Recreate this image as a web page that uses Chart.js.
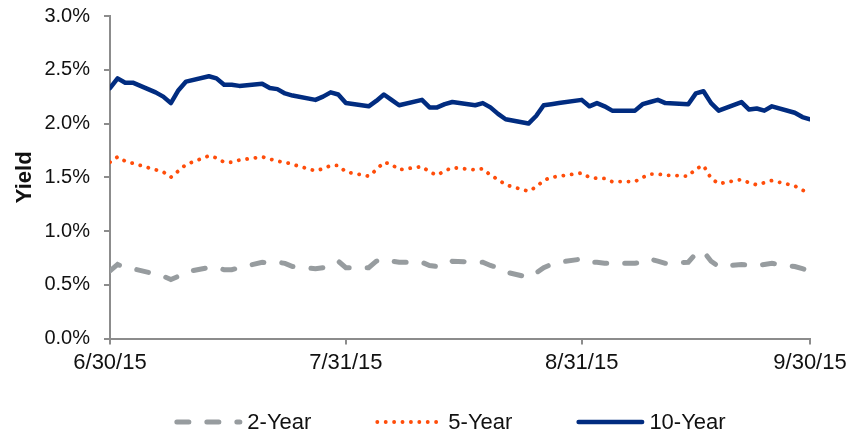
<!DOCTYPE html>
<html>
<head>
<meta charset="utf-8">
<script src="https://cdn.jsdelivr.net/npm/chart.js@4/dist/chart.umd.min.js"></script>
<style>
  html, body { margin: 0; padding: 0; background: #fff; }
  #wrap { width: 846px; height: 434px; }
</style>
</head>
<body>
<div id="wrap"><canvas id="yieldChart" width="846" height="434"></canvas></div>
<script>
// trading days, Q3 2015 (holidays carry prior value)
const dates = [
  '6/30',
  '7/1','7/2','7/3','7/6','7/7','7/8','7/9','7/10','7/13','7/14','7/15','7/16','7/17',
  '7/20','7/21','7/22','7/23','7/24','7/27','7/28','7/29','7/30','7/31',
  '8/3','8/4','8/5','8/6','8/7','8/10','8/11','8/12','8/13','8/14','8/17','8/18','8/19',
  '8/20','8/21','8/24','8/25','8/26','8/27','8/28','8/31',
  '9/1','9/2','9/3','9/4','9/7','9/8','9/9','9/10','9/11','9/14','9/15','9/16','9/17',
  '9/18','9/21','9/22','9/23','9/24','9/25','9/28','9/29','9/30'
];

const yield2 = [
  0.63,
  0.69,0.66,0.65,0.60,0.58,0.55,0.58,0.62,0.66,0.66,0.64,0.64,0.66,
  0.71,0.70,0.71,0.70,0.67,0.65,0.66,0.69,0.72,0.66,
  0.66,0.72,0.74,0.72,0.71,0.71,0.68,0.67,0.68,0.72,0.71,0.71,0.68,
  0.66,0.62,0.57,0.61,0.66,0.69,0.71,0.74,
  0.71,0.71,0.70,0.70,0.70,0.71,0.74,0.72,0.70,0.71,0.79,0.81,0.72,
  0.67,0.69,0.68,0.68,0.69,0.70,0.67,0.65,0.63
];

const yield5 = [
  1.64,
  1.69,1.65,1.63,1.57,1.55,1.50,1.56,1.62,1.70,1.68,1.64,1.64,1.66,
  1.69,1.67,1.65,1.64,1.62,1.56,1.58,1.61,1.61,1.55,
  1.51,1.57,1.64,1.62,1.57,1.60,1.55,1.52,1.56,1.59,1.57,1.58,1.52,
  1.48,1.43,1.37,1.41,1.47,1.50,1.51,1.54,
  1.50,1.49,1.49,1.46,1.46,1.50,1.53,1.53,1.52,1.51,1.58,1.61,1.49,
  1.44,1.48,1.45,1.43,1.45,1.47,1.42,1.38,1.36
];

const yield10 = [
  2.33,
  2.42,2.38,2.38,2.29,2.25,2.19,2.31,2.39,2.44,2.42,2.36,2.36,2.35,
  2.37,2.33,2.32,2.28,2.26,2.22,2.25,2.29,2.27,2.19,
  2.16,2.21,2.27,2.22,2.17,2.22,2.15,2.15,2.18,2.20,2.17,2.19,2.15,
  2.09,2.04,2.00,2.07,2.17,2.18,2.19,2.22,
  2.16,2.19,2.16,2.12,2.12,2.18,2.20,2.22,2.19,2.18,2.28,2.30,2.19,
  2.12,2.20,2.13,2.14,2.12,2.16,2.10,2.06,2.04
];

const seriesNames = ['2-Year', '5-Year', '10-Year'];
const xTickLabels = ['6/30/15', '7/31/15', '8/31/15', '9/30/15'];
const yTicks = [0, 0.5, 1, 1.5, 2, 2.5, 3];

// days since 6/30/15
const dayOf = (s) => {
  const [m, d] = s.split('/').map(Number);
  return Math.round((new Date(2015, m - 1, d) - new Date(2015, 5, 30)) / 8.64e7);
};
const xDays = dates.map(dayOf);
const xTickDays = xTickLabels.map(dayOf);

const toPoints = (vals) => vals.map((v, i) => ({ x: xDays[i], y: v }));

const FONT = "'Liberation Sans', Arial, sans-serif";
Chart.defaults.font.family = FONT;
Chart.defaults.color = '#111';

const axisGrey = '#8c8c8c';

// legend drawn by hand so the line samples keep their dash and sit tight to the text
const lineLegend = {
  id: 'lineLegend',
  afterDraw(chart) {
    const ctx = chart.ctx;
    const sample = 68, gap = 5, spacing = 64;
    ctx.save();
    ctx.font = '22px ' + FONT;
    ctx.textBaseline = 'middle';
    const items = chart.data.datasets.map(ds => ({ ds, w: sample + gap + ctx.measureText(ds.label).width }));
    const total = items.reduce((s, it) => s + it.w, 0) + spacing * (items.length - 1);
    const ca = chart.chartArea;
    let x = (ca.left + ca.right) / 2 - 10 - total / 2;
    const y = 422;
    items.forEach(({ ds, w }) => {
      ctx.beginPath();
      ctx.setLineDash(ds.borderDash || []);
      ctx.lineCap = 'round';
      ctx.lineWidth = ds.borderWidth;
      ctx.strokeStyle = ds.borderColor;
      const r = ds.borderWidth / 2;
      ctx.moveTo(x + r, y);
      ctx.lineTo(x + sample - r, y);
      ctx.stroke();
      ctx.setLineDash([]);
      ctx.fillStyle = '#111';
      ctx.fillText(ds.label, x + sample + gap, y + 1);
      x += w + spacing;
    });
    ctx.restore();
  }
};

const config = {
  type: 'line',
  data: {
    datasets: [{
      label: seriesNames[0],
      data: toPoints(yield2),
      borderColor: '#979c9f',
      borderWidth: 5,
      borderDash: [12, 18],
      borderCapStyle: 'round',
      pointRadius: 0,
      tension: 0
    }, {
      label: seriesNames[1],
      data: toPoints(yield5),
      borderColor: '#ff4d0a',
      borderWidth: 3.8,
      borderDash: [0.1, 8.3],
      borderCapStyle: 'round',
      pointRadius: 0,
      tension: 0
    }, {
      label: seriesNames[2],
      data: toPoints(yield10),
      borderColor: '#012c80',
      borderWidth: 4.5,
      borderCapStyle: 'round',
      borderJoinStyle: 'round',
      pointRadius: 0,
      tension: 0
    }]
  },
  options: {
    responsive: false,
    animation: false,
    layout: { padding: { top: 16, right: 0, left: 12, bottom: 53 } },
    plugins: {
      tooltip: { enabled: false },
      legend: { display: false }
    },
    scales: {
      x: {
        type: 'linear',
        min: 0,
        max: xTickDays[xTickDays.length - 1],
        afterBuildTicks: (axis) => {
          axis.ticks = xTickDays.map(v => ({ value: v }));
        },
        afterFit: (scale) => {
          scale.paddingLeft = 0;
          scale.paddingRight = 36;
        },
        ticks: {
          autoSkip: false,
          maxRotation: 0,
          padding: 5,
          font: { size: 22 },
          callback: (v) => xTickLabels[xTickDays.indexOf(v)]
        },
        grid: { drawOnChartArea: false, drawTicks: true, tickLength: 6, color: axisGrey, lineWidth: 2 },
        border: { color: axisGrey, width: 2 }
      },
      y: {
        min: 0,
        max: 3,
        afterBuildTicks: (axis) => {
          axis.ticks = yTicks.map(v => ({ value: v }));
        },
        afterFit: (scale) => {
          scale.paddingTop = 0;
          scale.paddingBottom = 0;
        },
        ticks: {
          padding: 14,
          font: { size: 20 },
          callback: (v) => v.toFixed(1) + '%'
        },
        title: {
          display: true,
          text: 'Yield',
          font: { size: 22, weight: 'bold' },
          color: '#111',
          padding: { top: 0, bottom: -8 }
        },
        grid: { drawOnChartArea: false, drawTicks: true, tickLength: 6, color: axisGrey, lineWidth: 2 },
        border: { color: axisGrey, width: 2 }
      }
    }
  },
  plugins: [lineLegend]
};

const chart = new Chart(document.getElementById('yieldChart'), config);
</script>
</body>
</html>
